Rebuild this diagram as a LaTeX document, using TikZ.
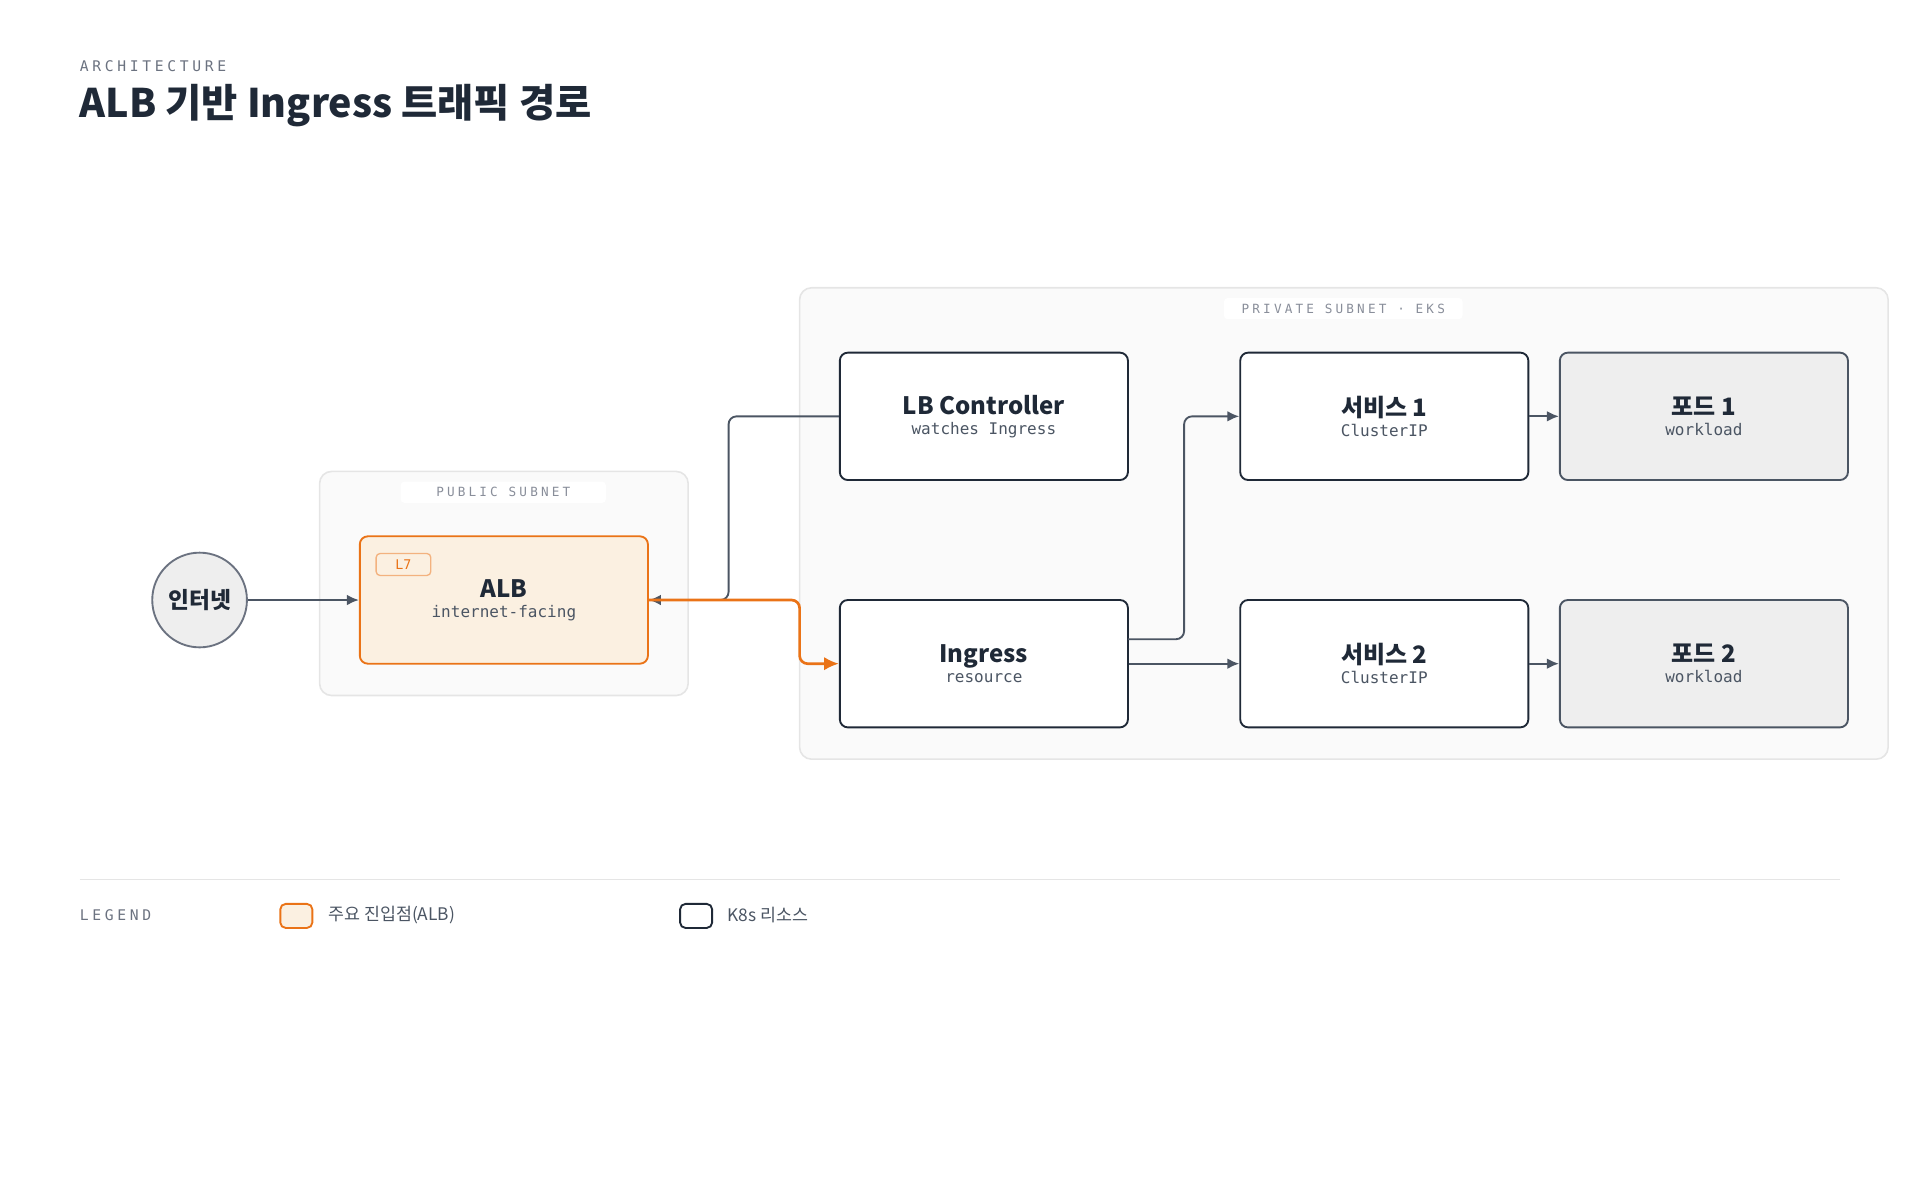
\documentclass[tikz,border=0pt]{standalone}
\usepackage{fontspec}
\setmainfont{Noto Sans CJK KR}
\setsansfont{Noto Sans CJK KR}
\newfontfamily\cjk{Noto Sans CJK KR}
\newfontfamily\monof{DejaVu Sans Mono}
\newfontfamily\monols{DejaVu Sans Mono}[LetterSpace=25]
\usetikzlibrary{arrows.meta}
\definecolor{ink}{HTML}{1F2937}
\definecolor{grayline}{HTML}{4B5563}
\definecolor{orng}{HTML}{EA7317}
\definecolor{orngfill}{HTML}{FBF0E1}
\definecolor{zonefill}{HTML}{FAFAFA}
\definecolor{zoneline}{HTML}{E5E5E5}
\definecolor{podfill}{HTML}{EEEEEE}
\definecolor{muted}{HTML}{6B7280}
\newcommand{\ttlf}{\cjk\bfseries\fontsize{18}{22}\selectfont\color{ink}}
\newcommand{\subf}{\monof\fontsize{12}{15}\selectfont\color{grayline}}
\newcommand{\boxtext}[2]{{\ttlf #1}\\[3pt]{\subf #2}}
\begin{document}
\begin{tikzpicture}[x=0.918pt,y=-0.918pt,
  zone/.style={draw=zoneline,fill=zonefill,line width=1.2pt,rounded corners=9pt},
  zlabel/.style={fill=white,text=muted!80,font=\monols\fontsize{9.5}{12}\selectfont,minimum height=16pt,rounded corners=3pt,inner sep=0pt},
  box/.style={draw=ink,fill=white,line width=1.4pt,rounded corners=6pt,minimum width=216pt,minimum height=95.5pt,align=center,inner sep=0pt},
  pod/.style={box,fill=podfill,draw=grayline},
  arr/.style={draw=grayline,line width=1.4pt,rounded corners=6pt,-{Latex[length=9pt,width=8pt]}},
  oarr/.style={draw=orng,line width=2pt,rounded corners=6pt,-{Latex[length=11pt,width=10pt]}}
]
\useasboundingbox (0,0) rectangle (1568,980);
\node[anchor=west,text=muted,font=\monols\fontsize{11}{13}\selectfont,inner sep=0pt] (arch) at (65,54) {ARCHITECTURE};
\node[anchor=west,text=ink,font=\cjk\bfseries\fontsize{29.5}{34}\selectfont,inner sep=0pt] (title) at (65,86) {ALB 기반 Ingress 트래픽 경로};

\draw[zone] (261,385) rectangle (562,568);
\node[zlabel,minimum width=154pt] (publab) at (411,402) {PUBLIC SUBNET};
\draw[zone] (653,235) rectangle (1542,620);
\node[zlabel,minimum width=179pt] (privlab) at (1097,252) {PRIVATE SUBNET · EKS};

\node[circle,draw=muted,fill=podfill,line width=1.4pt,minimum size=71pt,inner sep=0pt,font=\cjk\bfseries\fontsize{17}{20}\selectfont,text=ink] (inet) at (163,490) {인터넷};

\node[box,draw=orng,fill=orngfill] (alb) at (411.5,490) {\boxtext{ALB}{internet-facing}};
\node[draw=orng!55,fill=orngfill,rounded corners=3pt,line width=1pt,minimum width=41pt,minimum height=16.5pt,inner sep=0pt,text=orng,font=\monof\fontsize{10}{12}\selectfont] (l7) at (329.5,461) {L7};

\node[box] (lbc) at (803.5,340) {\boxtext{LB Controller}{watches Ingress}};
\node[box] (ing) at (803.5,542) {\boxtext{Ingress}{resource}};
\node[box] (s1) at (1130.5,340) {\boxtext{서비스 1}{ClusterIP}};
\node[box] (s2) at (1130.5,542) {\boxtext{서비스 2}{ClusterIP}};
\node[pod] (p1) at (1391.5,340) {\boxtext{포드 1}{workload}};
\node[pod] (p2) at (1391.5,542) {\boxtext{포드 2}{workload}};

\draw[arr] (inet.east) -- (alb.west);
\draw[arr] (lbc.west) -- (595,340) -- (595,490) -- (alb.east);
\draw[oarr] (alb.east) -- (653,490) -- (653,542) -- (ing.west);
\coordinate (ingr) at (921,522);
\draw[arr] (ingr) -- (967,522) -- (967,340) -- (s1.west);
\draw[arr] (ing.east) -- (s2.west);
\draw[arr] (s1.east) -- (p1.west);
\draw[arr] (s2.east) -- (p2.west);

\draw[draw=zoneline,line width=1pt] (65,718) -- (1503,718);
\node[anchor=west,text=muted,font=\monols\fontsize{11}{13}\selectfont,inner sep=0pt] (leg) at (65,747) {LEGEND};
\node[draw=orng,fill=orngfill,line width=1.4pt,rounded corners=4pt,minimum width=24pt,minimum height=18pt,inner sep=0pt] (sw1) at (242,748) {};
\node[anchor=west,text=grayline,font=\cjk\fontsize{13}{15}\selectfont,inner sep=0pt] (lt1) at (268,747) {주요 진입점(ALB)};
\node[draw=ink,fill=white,line width=1.4pt,rounded corners=4pt,minimum width=24pt,minimum height=18pt,inner sep=0pt] (sw2) at (568.5,748) {};
\node[anchor=west,text=grayline,font=\cjk\fontsize{13}{15}\selectfont,inner sep=0pt] (lt2) at (594,747) {K8s 리소스};
\end{tikzpicture}
\end{document}
